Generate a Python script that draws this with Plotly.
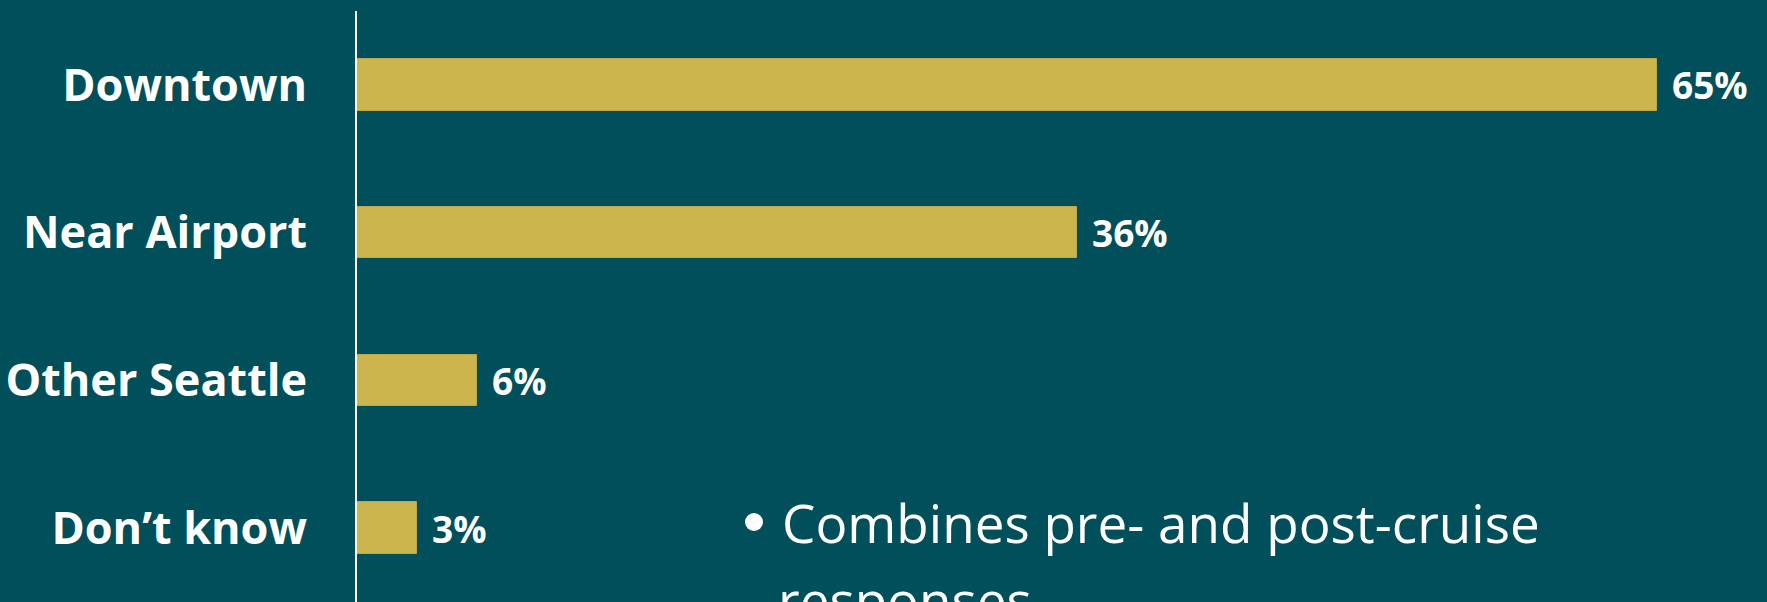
import plotly.graph_objects as go

# Data
categories = ["Downtown", "Near Airport", "Other Seattle", "Don\u2019t know"]
values = [65, 36, 6, 3]
value_labels = ["65%", "36%", "6%", "3%"]
note_line1 = "Combines pre- and post-cruise"
note_line2 = "responses"

BG = "#004F5A"
GOLD = "#CDB54E"

fig = go.Figure(go.Bar(
    x=values,
    y=categories,
    orientation="h",
    width=0.35,
    marker=dict(color=GOLD, line=dict(color="#BDA64A", width=1)),
    hoverinfo="skip",
))

# value labels next to bar ends
for cat, val, lab in zip(categories, values, value_labels):
    fig.add_annotation(
        x=val, y=cat, xref="x", yref="y",
        text=lab, showarrow=False,
        xanchor="left", yanchor="middle", xshift=13,
        font=dict(family="Open Sans", size=37, color="white", weight=700),
    )

# plot area in pixels, used to place the note in paper units
L, T = 357, 11
W = 1767 - L
H = 602 - T


def px_x(x):
    return (x - L) / W


def px_y(y):
    return (602 - y) / H


# bullet note (second line is cut off by the slide edge)
fig.add_shape(
    type="circle", xref="paper", yref="paper",
    x0=px_x(745), x1=px_x(763), y0=px_y(531), y1=px_y(513),
    fillcolor="white", line=dict(width=0),
)
fig.add_annotation(
    x=px_x(780), y=px_y(561), xref="paper", yref="paper", text=note_line1,
    showarrow=False, xanchor="left", yanchor="bottom",
    font=dict(family="Open Sans", size=53, color="white"),
)
fig.add_annotation(
    x=px_x(776), y=px_y(638), xref="paper", yref="paper", text=note_line2,
    showarrow=False, xanchor="left", yanchor="bottom",
    font=dict(family="Open Sans", size=53, color="white"),
)

fig.update_layout(
    width=1767, height=602,
    paper_bgcolor=BG, plot_bgcolor=BG,
    margin=dict(l=L, r=0, t=T, b=0),
    showlegend=False,
    bargap=0,
    xaxis=dict(range=[0, 70.5], showticklabels=False, showgrid=False,
               zeroline=False, showline=False, fixedrange=True),
    yaxis=dict(autorange="reversed", showgrid=False, zeroline=False,
               showline=True, linecolor="white", linewidth=2,
               ticks="", ticklabelstandoff=39, fixedrange=True,
               tickfont=dict(family="Open Sans", size=45, color="white", weight=700)),
)

fig.write_html(
    "out.html",
    config={"displayModeBar": False},
    post_script="document.body.style.margin='0';document.body.style.overflow='hidden';",
)
